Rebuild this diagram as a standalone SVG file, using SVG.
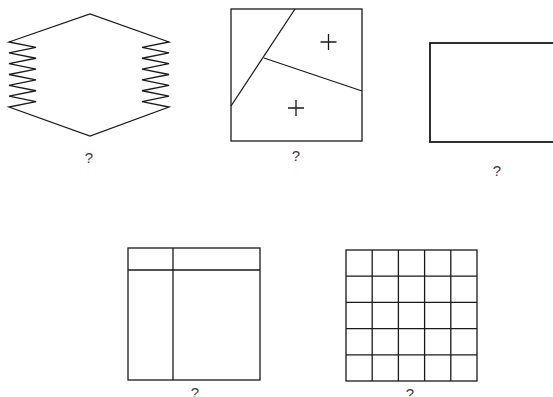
<svg xmlns="http://www.w3.org/2000/svg" width="553" height="397" viewBox="0 0 553 397">
<style>
.s{fill:none;stroke:#1a1a1a;stroke-width:1.3;stroke-linejoin:miter}
.q{font-family:"Liberation Sans",Arial,sans-serif;font-size:15px;fill:#3a3a3a;text-anchor:middle}
</style>
<rect width="553" height="397" fill="#ffffff"/>
<g id="hexagon">
<path class="s" d="M9,42 L90,14 L169,42 L142,47.42 L169,52.83 L142,58.25 L169,63.67 L142,69.08 L169,74.5 L142,79.92 L169,85.33 L142,90.75 L169,96.17 L142,101.58 L169,107 L90,136 L9,107 L36,101.58 L9,96.17 L36,90.75 L9,85.33 L36,79.92 L9,74.5 L36,69.08 L9,63.67 L36,58.25 L9,52.83 L36,47.42 Z"/>
<text class="q" x="89" y="163">?</text>
</g>
<g id="square-split">
<rect class="s" x="231" y="9" width="131" height="132"/>
<path class="s" d="M295,9 L231,106 M264,58 L362,91"/>
<path class="s" d="M320.5,42 H336.5 M328.5,34 V50 M288,108 H304 M296,100 V116"/>
<text class="q" x="296" y="161">?</text>
</g>
<g id="rectangle">
<rect class="s" style="stroke-width:1.8" x="430" y="43" width="130" height="99"/>
<text class="q" x="497" y="176">?</text>
</g>
<g id="table">
<rect class="s" x="128" y="248" width="132" height="132"/>
<path class="s" d="M128,270 H260 M173,248 V380"/>
<text class="q" x="195" y="398">?</text>
</g>
<g id="grid">
<rect class="s" x="346" y="250" width="131" height="131"/>
<path class="s" d="M372.2,250 V381 M398.4,250 V381 M424.6,250 V381 M450.8,250 V381 M346,276.2 H477 M346,302.4 H477 M346,328.6 H477 M346,354.8 H477"/>
<text class="q" x="410" y="399">?</text>
</g>
<g id="connectors"></g>
</svg>
